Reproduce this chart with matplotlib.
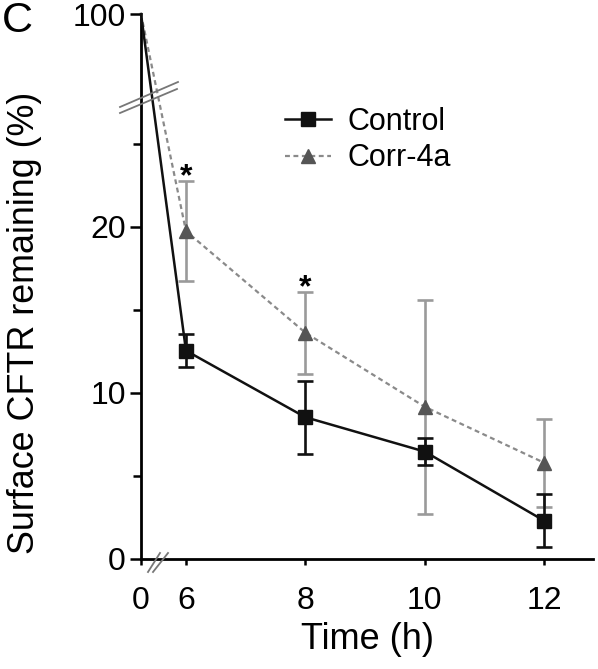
import numpy as np
import matplotlib
matplotlib.use('Agg')
import matplotlib.pyplot as plt

plt.rcParams['font.family'] = ['Liberation Sans', 'DejaVu Sans']

# data (percent of surface CFTR remaining)
times = [0, 6, 8, 10, 12]
ctrl_mean = [100, 12.55, 8.54, 6.47, 2.31]
ctrl_sem = [0, 1.0, 2.2, 0.8, 1.6]
corr_mean = [100, 19.75, 13.63, 9.17, 5.8]
corr_sem = [0, 3.0, 2.47, 6.45, 2.66]
sig_times = [6, 8]
labels = ['Control', 'Corr-4a']

y_ticks = [0, 10, 20, 100]
y_minor = [5, 15, 25]
x_ticks = [0, 6, 8, 10, 12]

# broken axes: compress 27.6..100 on y, 0..6 on x
YB, YK = 27.6, 0.0722
XB, XK = 6.0, 0.1256


def y_fwd(y):
    y = np.asarray(y, dtype=float)
    return np.where(y <= YB, y, YB + (y - YB) * YK)


def y_inv(u):
    u = np.asarray(u, dtype=float)
    return np.where(u <= YB, u, YB + (u - YB) / YK)


def x_fwd(x):
    x = np.asarray(x, dtype=float)
    return np.where(x <= XB, x * XK, XB * XK + (x - XB))


def x_inv(u):
    u = np.asarray(u, dtype=float)
    return np.where(u <= XB * XK, u / XK, u - XB * XK + XB)


W, H = 598, 669
fig = plt.figure(figsize=(W / 100, H / 100), dpi=100)
ax = fig.add_axes([141 / W, 110 / H, 452 / W, 545 / H])
ax.set_xscale('function', functions=(x_fwd, x_inv))
ax.set_yscale('function', functions=(y_fwd, y_inv))

CTRL = '#111111'
CORR_MK = '#555555'
CORR_LN = '#8a8a8a'
CORR_ERR = '#9a9a9a'

# Corr-4a
eb_corr = ax.errorbar(times, corr_mean, yerr=corr_sem, errorevery=(1, 1), markevery=(1, 1),
                      color=CORR_LN, ls=(0, (2.2, 1.6)), lw=1.6, marker='^', ms=10.5,
                      mfc=CORR_MK, mec=CORR_MK, ecolor=CORR_ERR, elinewidth=1.9,
                      capsize=5.5, capthick=1.9, clip_on=False, zorder=3)
# Control
eb_ctrl = ax.errorbar(times, ctrl_mean, yerr=ctrl_sem, errorevery=(1, 1), markevery=(1, 1),
                      color=CTRL, ls='-', lw=1.8, marker='s', ms=9.5,
                      mfc=CTRL, mec=CTRL, ecolor=CTRL, elinewidth=1.9,
                      capsize=5.5, capthick=1.9, clip_on=False, zorder=4)

ax.legend([eb_ctrl[0], eb_corr[0]], labels, loc='upper left', bbox_to_anchor=(0.318, 0.83),
          frameon=False, fontsize=22, handlelength=1.5, handletextpad=0.55,
          labelspacing=0.22, borderpad=0, borderaxespad=0)

for t in sig_times:
    i = times.index(t)
    ax.annotate('*', xy=(t, corr_mean[i] + corr_sem[i]), xytext=(0, -3),
                textcoords='offset points', ha='center', va='baseline',
                fontsize=23, fontweight='bold')

ax.set_xlim(0, 12.82)
ax.set_ylim(0, 100)
ax.set_xticks(x_ticks)
ax.set_xticklabels([str(t) for t in x_ticks])
ax.set_yticks(y_ticks)
ax.set_yticklabels([str(t) for t in y_ticks])
ax.yaxis.set_minor_locator(matplotlib.ticker.FixedLocator(y_minor))
ax.xaxis.set_minor_locator(matplotlib.ticker.NullLocator())

for s in ['top', 'right']:
    ax.spines[s].set_visible(False)
for s in ['left', 'bottom']:
    ax.spines[s].set_linewidth(2.0)
ax.tick_params(axis='y', which='major', length=8, width=1.8, labelsize=23, pad=3)
ax.tick_params(axis='y', which='minor', length=6, width=1.8)
ax.tick_params(axis='x', which='major', length=4.5, width=1.8, labelsize=23, pad=15)

ax.set_xlabel('Time (h)', fontsize=26, labelpad=4)
ax.set_ylabel('Surface CFTR remaining (%)', fontsize=25.8)
ax.yaxis.set_label_coords(-0.219, 0.434)

# break marks (figure pixel coords)
def px(x, y):
    return x / W, 1 - y / H

for (x0, y0, x1, y1) in [(120, 107, 178, 82), (120, 113, 177, 89),
                         (148, 572, 160, 553), (153, 572, 168, 553)]:
    a, b = px(x0, y0)
    c, d = px(x1, y1)
    fig.add_artist(plt.Line2D([a, c], [b, d], color='#777777', lw=1.3,
                              transform=fig.transFigure))

fig.text(2 / W, 1 - 32 / H, 'C', fontsize=31, ha='left', va='baseline')

fig.savefig('out.png', dpi=100)
